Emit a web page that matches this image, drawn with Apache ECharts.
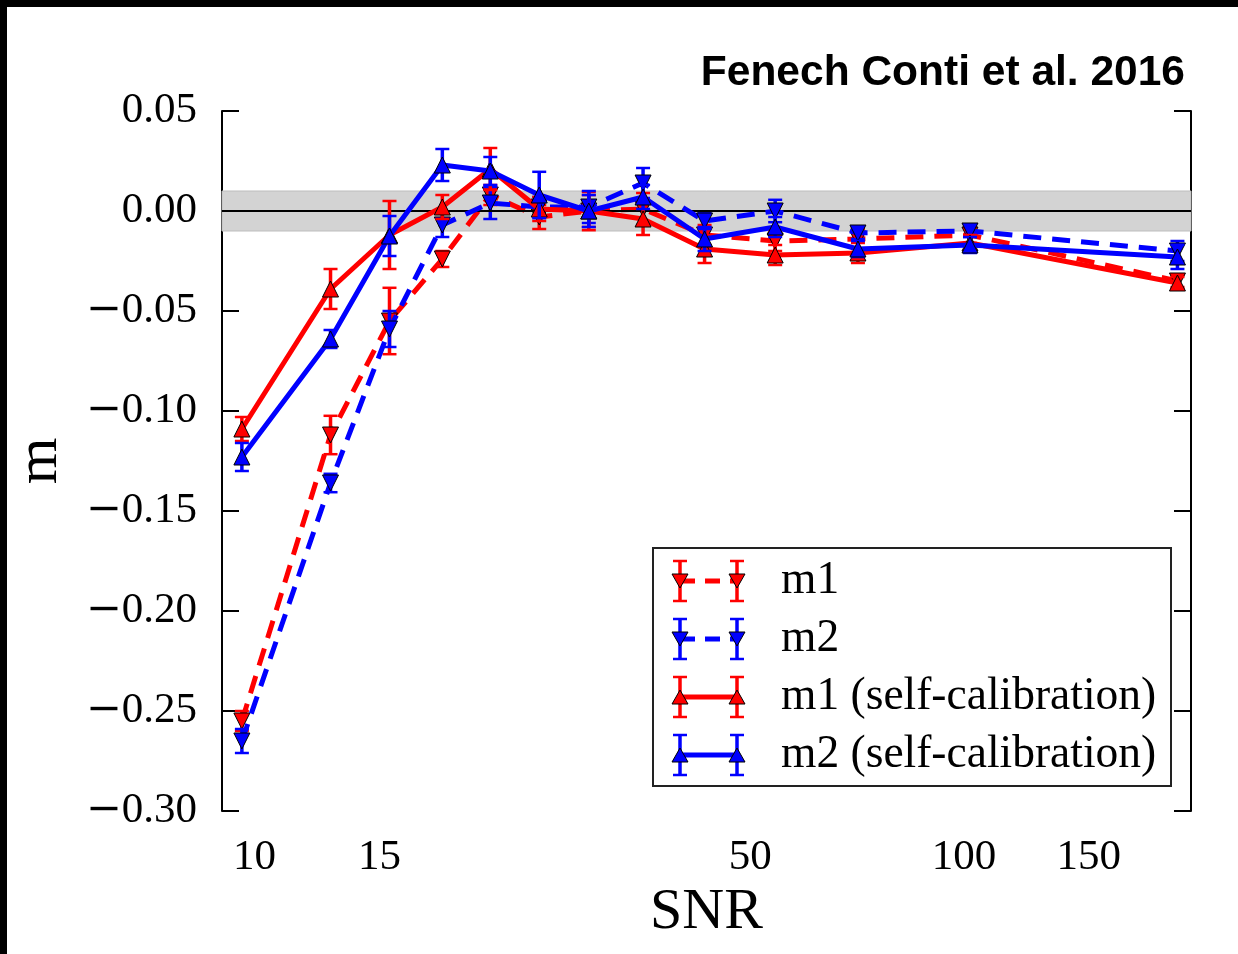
<!DOCTYPE html>
<html>
<head>
<meta charset="utf-8">
<script src="https://cdn.jsdelivr.net/npm/echarts@6/dist/echarts.min.js"></script>
<style>
html,body{margin:0;padding:0;background:#fff;}
#chart{width:1238px;height:954px;}
</style>
</head>
<body>
<div id="chart"></div>
<script>
// ---- data ----
const snr = [9.6, 12.8, 15.5, 18.4, 21.5, 25.2, 29.6, 35.3, 43.1, 54.2, 70.9, 102, 200];
const m1      = [-0.255, -0.112, -0.055, -0.024, 0.008, -0.003, 0.000, 0.001, -0.012, -0.015, -0.014, -0.012, -0.035];
const m1Err   = [0.005, 0.0096, 0.0166, 0.004, 0.005, 0.006, 0.0096, 0.008, 0.005, 0.005, 0.005, 0.004, 0.003];
const m2      = [-0.265, -0.136, -0.059, -0.007, 0.004, 0.002, 0.002, 0.014, -0.005, 0.000, -0.011, -0.010, -0.020];
const m2Err   = [0.006, 0.0046, 0.009, 0.006, 0.008, 0.005, 0.008, 0.0075, 0.004, 0.0056, 0.003, 0.003, 0.005];
const m1s     = [-0.109, -0.039, -0.012, 0.002, 0.021, 0.001, 0.000, -0.004, -0.019, -0.022, -0.021, -0.016, -0.036];
const m1sErr  = [0.006, 0.010, 0.017, 0.006, 0.0105, 0.006, 0.008, 0.008, 0.007, 0.005, 0.005, 0.004, 0.003];
const m2s     = [-0.123, -0.064, -0.0125, 0.023, 0.020, 0.008, 0.000, 0.007, -0.014, -0.008, -0.019, -0.017, -0.023];
const m2sErr  = [0.007, 0.0045, 0.010, 0.008, 0.007, 0.0116, 0.008, 0.006, 0.006, 0.005, 0.004, 0.004, 0.006];
const xTicks = [10, 15, 50, 100, 150];
const seriesNames = ['m1', 'm2', 'm1 (self-calibration)', 'm2 (self-calibration)'];
const titleText = 'Fenech Conti et al. 2016';

const RED = '#ff0000', BLUE = '#0000ff';
const SERIF = '"Liberation Serif", "DejaVu Serif", serif';
const SANS = '"Liberation Sans", Arial, sans-serif';
const DASH = [18, 11];

function pairs(ys){ return snr.map((x,i)=>[x, ys[i]]); }
function errData(ys, es){ return snr.map((x,i)=>[x, ys[i]-es[i], ys[i]+es[i]]); }

function errRender(color){
  return function(params, api){
    const x = api.value(0), lo = api.value(1), hi = api.value(2);
    const pTop = api.coord([x, hi]), pBot = api.coord([x, lo]);
    const hw = 7;
    return {type:'group', children:[
      {type:'line', shape:{x1:pTop[0], y1:pTop[1], x2:pBot[0], y2:pBot[1]}, style:{stroke:color, lineWidth:3.5}},
      {type:'line', shape:{x1:pTop[0]-hw, y1:pTop[1], x2:pTop[0]+hw, y2:pTop[1]}, style:{stroke:color, lineWidth:2.5}},
      {type:'line', shape:{x1:pBot[0]-hw, y1:pBot[1], x2:pBot[0]+hw, y2:pBot[1]}, style:{stroke:color, lineWidth:2.5}}
    ]};
  };
}

const specs = [
  {name:seriesNames[0], ys:m1,  es:m1Err,  color:RED,  dashed:true,  down:true},
  {name:seriesNames[1], ys:m2,  es:m2Err,  color:BLUE, dashed:true,  down:true},
  {name:seriesNames[2], ys:m1s, es:m1sErr, color:RED,  dashed:false, down:false},
  {name:seriesNames[3], ys:m2s, es:m2sErr, color:BLUE, dashed:false, down:false}
];

const series = [];
// reference band and zero line
series.push({
  type:'line', data:[], silent:true, z:1,
  markArea:{silent:true, itemStyle:{color:'#d3d3d3', borderColor:'#bdbdbd', borderWidth:1},
    data:[[{yAxis:-0.01},{yAxis:0.01}]]},
  markLine:{silent:true, symbol:['none','none'], label:{show:false},
    lineStyle:{color:'#000', width:2, type:'solid'}, data:[{yAxis:0}]}
});
specs.forEach((s, i)=>{
  series.push({
    type:'custom', name:s.name+' err', z:2+2*i, silent:true,
    renderItem: errRender(s.color),
    encode:{x:0, y:[1,2]},
    data: errData(s.ys, s.es)
  });
  series.push({
    type:'line', name:s.name, z:3+2*i, data:pairs(s.ys),
    symbol:'triangle', symbolSize:16, symbolRotate: s.down ? 180 : 0,
    itemStyle:{color:s.color, borderColor:'#000', borderWidth:1},
    lineStyle:{color:s.color, width:5, type: s.dashed ? DASH : 'solid'},
    emphasis:{disabled:true}
  });
});

// ---- legend drawn as graphic ----
const legX = 653, legY = 548, legW = 518, legH = 238;
const rowY = [581, 639, 697, 755];
const legChildren = [
  {type:'rect', shape:{x:legX, y:legY, width:legW, height:legH}, style:{fill:'#fff', stroke:'#222', lineWidth:2}}
];
function triPoints(cx, cy, down){
  const w = 8, h = 7;
  return down ? [[cx-w, cy-h],[cx+w, cy-h],[cx, cy+h]] : [[cx-w, cy+h],[cx+w, cy+h],[cx, cy-h]];
}
specs.forEach((s, i)=>{
  const y = rowY[i];
  const xs = [680, 737];
  legChildren.push({type:'line', shape:{x1:xs[0], y1:y, x2:xs[1], y2:y},
    style:{stroke:s.color, lineWidth:5, lineDash: s.dashed ? [15,10] : null}});
  xs.forEach(x=>{
    legChildren.push({type:'line', shape:{x1:x, y1:y-20, x2:x, y2:y+20}, style:{stroke:s.color, lineWidth:3.5}});
    legChildren.push({type:'line', shape:{x1:x-7, y1:y-20, x2:x+7, y2:y-20}, style:{stroke:s.color, lineWidth:2.5}});
    legChildren.push({type:'line', shape:{x1:x-7, y1:y+20, x2:x+7, y2:y+20}, style:{stroke:s.color, lineWidth:2.5}});
    legChildren.push({type:'polygon', shape:{points:triPoints(x, y, s.down)}, style:{fill:s.color, stroke:'#000', lineWidth:1}});
  });
  legChildren.push({type:'text', x:781, y:y, style:{text:s.name, font:'45.5px ' + SERIF, fill:'#000', align:'left', verticalAlign:'middle'}});
});

const yLabelFmt = v => {
  if (Math.abs(v) < 1e-9) return '0.00';
  return (v < 0 ? '{m|\u2212}' : '') + Math.abs(v).toFixed(2);
};

const option = {
  animation:false,
  backgroundColor:'#fff',
  grid:{left:222, right:47, top:111, bottom:143, containLabel:false},
  xAxis:[
    {type:'log', logBase:10, min:9, max:209, position:'bottom',
     name:'SNR', nameLocation:'middle', nameGap:72,
     nameTextStyle:{fontFamily:SERIF, fontSize:58, color:'#000'},
     axisLine:{show:true, lineStyle:{color:'#000', width:2}},
     axisTick:{show:true, inside:true, length:17, lineStyle:{color:'#000', width:2}, customValues:xTicks},
     axisLabel:{show:true, margin:25, fontFamily:SERIF, fontSize:43, color:'#000', customValues:xTicks,
       formatter: v => String(Math.round(v))},
     splitLine:{show:false}, minorTick:{show:false}, minorSplitLine:{show:false}},
    {type:'log', logBase:10, min:9, max:209, position:'top',
     axisLine:{show:true, lineStyle:{color:'#000', width:2}},
     axisTick:{show:true, inside:true, length:17, lineStyle:{color:'#000', width:2}, customValues:xTicks},
     axisLabel:{show:false}, splitLine:{show:false}}
  ],
  yAxis:[
    {type:'value', min:-0.3, max:0.05, interval:0.05, position:'left',
     name:'m', nameLocation:'middle', nameGap:152, nameRotate:90,
     nameTextStyle:{fontFamily:SERIF, fontSize:60, color:'#000'},
     axisLine:{show:true, lineStyle:{color:'#000', width:2}},
     axisTick:{show:true, inside:true, length:17, lineStyle:{color:'#000', width:2}},
     axisLabel:{margin:25, fontFamily:SERIF, fontSize:43, color:'#000', formatter:yLabelFmt,
       rich:{m:{fontFamily:'"DejaVu Serif", serif', fontSize:43, color:'#000'}}},
     splitLine:{show:false}},
    {type:'value', min:-0.3, max:0.05, interval:0.05, position:'right',
     axisLine:{show:true, lineStyle:{color:'#000', width:2}},
     axisTick:{show:true, inside:true, length:17, lineStyle:{color:'#000', width:2}},
     axisLabel:{show:false}, splitLine:{show:false}}
  ],
  series: series,
  graphic:[
    {type:'rect', shape:{x:0, y:0, width:1238, height:7}, style:{fill:'#000'}, z:100},
    {type:'rect', shape:{x:0, y:0, width:7, height:954}, style:{fill:'#000'}, z:100},
    {type:'text', x:1185, y:73, z:100, style:{text:titleText, font:'bold 42.5px ' + SANS, fill:'#000', align:'right', verticalAlign:'middle'}},
    {type:'group', z:100, children:legChildren}
  ]
};

const chart = echarts.init(document.getElementById('chart'), null, {renderer:'canvas'});
chart.setOption(option);
</script>
</body>
</html>
